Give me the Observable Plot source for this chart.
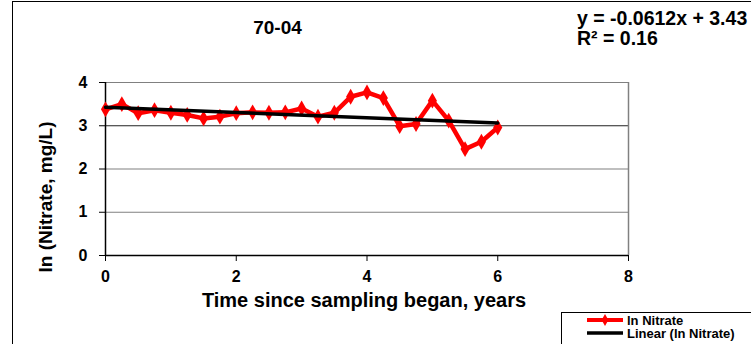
<!DOCTYPE html>
<html>
<head>
<meta charset="utf-8">
<script src="https://cdn.jsdelivr.net/npm/d3@7"></script>
<script src="https://cdn.jsdelivr.net/npm/@observablehq/plot@0.6"></script>
<style>
  html, body { margin: 0; padding: 0; background: #fff; }
  svg text { font-family: "Liberation Sans", Arial, sans-serif; font-weight: bold; }
</style>
</head>
<body>
<div id="chart"></div>
<script>
// ---- data ----
const years = [0, 0.25, 0.5, 0.75, 1, 1.25, 1.5, 1.75, 2, 2.25, 2.5, 2.75, 3, 3.25, 3.5, 3.75, 4, 4.25, 4.5, 4.75, 5, 5.25, 5.5, 5.75, 6];
const lnNitrate = [3.38, 3.50, 3.29, 3.36, 3.30, 3.25, 3.17, 3.21, 3.29, 3.31, 3.30, 3.31, 3.40, 3.21, 3.30, 3.67, 3.77, 3.64, 2.99, 3.04, 3.58, 3.12, 2.46, 2.63, 2.96];
const trendSlope = -0.0612;
const trendIntercept = 3.43;
const trendRange = [0, 6];
const xTicks = [0, 2, 4, 6, 8];
const yTicks = [0, 1, 2, 3, 4];
const gridLevels = [1, 2, 3, 4];
const chartTitle = "70-04";
const equationLines = ["y = -0.0612x + 3.43", "R² = 0.16"];
const xLabel = "Time since sampling began, years";
const yLabel = "ln (Nitrate, mg/L)";
const seriesName = "ln Nitrate";
const trendName = "Linear (ln Nitrate)";

const data = years.map((x, i) => ({x, y: lnNitrate[i]}));
const trend = trendRange.map(x => ({x, y: trendSlope * x + trendIntercept}));

const W = 751, H = 344;
const plot = Plot.plot({
  width: W,
  height: H,
  marginLeft: 105,
  marginRight: 123,
  marginTop: 82,
  marginBottom: 89,
  style: {fontFamily: "Liberation Sans, Arial, sans-serif", fontWeight: "bold", fontSize: "16px", color: "#000", background: "#fff"},
  x: {domain: [0, 8]},
  y: {domain: [0, 4]},
  marks: [
    Plot.ruleY(gridLevels, {stroke: d => d === 3 ? "#222" : "#808080", strokeWidth: 1.2}),
    Plot.ruleX([8], {stroke: "#808080", strokeWidth: 1.5}),
    Plot.ruleX([0], {stroke: "#000", strokeWidth: 1.5}),
    Plot.ruleY([0], {stroke: "#000", strokeWidth: 1.5}),
    Plot.axisX({ticks: xTicks, tickSize: 6, tickPadding: 9, label: null, fontSize: 16, tickFormat: d => String(d)}),
    Plot.axisY({ticks: yTicks, tickSize: 6, tickPadding: 12, label: null, fontSize: 16, tickFormat: d => String(d)}),
    Plot.line(data, {x: "x", y: "y", stroke: "#ff0000", strokeWidth: 4.5, strokeLinejoin: "round"}),
    Plot.dot(data, {x: "x", y: "y", symbol: "diamond", r: 4.8, fill: "#ff0000", stroke: "none"}),
    Plot.line(trend, {x: "x", y: "y", stroke: "#000", strokeWidth: 3.5})
  ]
});

document.getElementById("chart").appendChild(plot);
const svg = d3.select(plot);

// outer chart frame
svg.append("rect").attr("x", 12.5).attr("y", 1.5).attr("width", 800).attr("height", 400)
  .attr("fill", "none").attr("stroke", "#000").attr("stroke-width", 1);

// title
svg.append("text").attr("x", 277.5).attr("y", 34).attr("text-anchor", "middle")
  .style("font-size", "19px").text(chartTitle);

// equation
equationLines.forEach((t, i) => {
  svg.append("text").attr("x", 577).attr("y", 25 + i * 20).attr("text-anchor", "start")
    .style("font-size", "19.5px").text(t);
});

// axis titles
svg.append("text").attr("x", 364).attr("y", 307).attr("text-anchor", "middle")
  .style("font-size", "20px").text(xLabel);
svg.append("text").attr("transform", "translate(52,197) rotate(-90)").attr("text-anchor", "middle")
  .style("font-size", "19px").text(yLabel);

// legend
const lg = svg.append("g").attr("text-anchor", "start");
lg.append("rect").attr("x", 561.5).attr("y", 312.5).attr("width", 220).attr("height", 60)
  .attr("fill", "#fff").attr("stroke", "#000").attr("stroke-width", 1);
lg.append("line").attr("x1", 587).attr("x2", 623).attr("y1", 320).attr("y2", 320)
  .attr("stroke", "#ff0000").attr("stroke-width", 4);
lg.append("path").attr("d", d3.symbol(d3.symbolDiamond, 40)()).attr("transform", "translate(605,320)")
  .attr("fill", "#ff0000");
lg.append("text").attr("x", 627).attr("y", 324.5).attr("text-anchor", "start").style("font-size", "13px").text(seriesName);
lg.append("line").attr("x1", 587).attr("x2", 623).attr("y1", 333).attr("y2", 333)
  .attr("stroke", "#000").attr("stroke-width", 3.5);
lg.append("text").attr("x", 627).attr("y", 338).attr("text-anchor", "start").style("font-size", "13px").text(trendName);
</script>
</body>
</html>
